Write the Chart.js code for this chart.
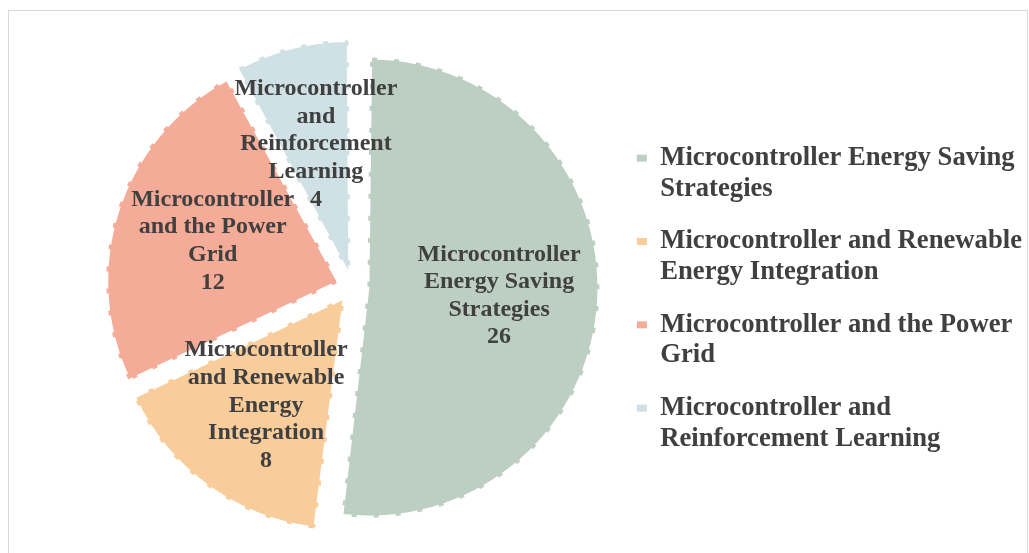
<!DOCTYPE html>
<html>
<head>
<meta charset="utf-8">
<script src="https://cdn.jsdelivr.net/npm/chart.js@4"></script>
<style>
  html, body { margin: 0; padding: 0; background: #fff; }
  #wrap { width: 1029px; height: 553px; position: relative; }
</style>
</head>
<body>
<div id="wrap"><canvas id="chart"></canvas></div>
<script>
// data
const categories = [
  'Microcontroller Energy Saving Strategies',
  'Microcontroller and Renewable Energy Integration',
  'Microcontroller and the Power Grid',
  'Microcontroller and Reinforcement Learning'
];
const values = [26, 8, 12, 4];

// how the names wrap in the legend and inside the slices
const legendLines = [
  ['Microcontroller Energy Saving', 'Strategies'],
  ['Microcontroller and Renewable', 'Energy Integration'],
  ['Microcontroller and the Power', 'Grid'],
  ['Microcontroller and', 'Reinforcement Learning']
];
const sliceLines = [
  ['Microcontroller', 'Energy Saving', 'Strategies'],
  ['Microcontroller', 'and Renewable', 'Energy', 'Integration'],
  ['Microcontroller', 'and the Power', 'Grid'],
  ['Microcontroller', 'and', 'Reinforcement', 'Learning']
];

const colors = ['#bccfc2', '#f8cd9b', '#f4ab97', '#d0e1e6'];
const textColor = '#404040';
const serif = "'Liberation Serif', 'Times New Roman', serif";

// light grey frame around the chart
const framePlugin = {
  id: 'frame',
  beforeDraw(chart) {
    const ctx = chart.ctx;
    ctx.save();
    ctx.strokeStyle = '#d9d9d9';
    ctx.lineWidth = 1;
    ctx.strokeRect(8.5, 10.5, 1019, 600);
    ctx.restore();
  }
};

// Chart.js grows an offset arc's radius by offset*(1 - sin(circumference));
// take that back so every exploded slice keeps the same radius
const evenRadiusPlugin = {
  id: 'evenRadius',
  beforeDatasetsDraw(chart) {
    const meta = chart.getDatasetMeta(0);
    const base = meta.controller.outerRadius;
    meta.data.forEach(arc => {
      const off = (arc.options.offset || 0) / 4;
      const fix = 1 - Math.sin(Math.min(Math.PI, arc.circumference));
      arc.outerRadius = base - off * fix;
    });
  }
};

// labels inside each slice: name + value
const sliceLabelPlugin = {
  id: 'sliceLabels',
  afterDatasetsDraw(chart) {
    const ctx = chart.ctx;
    const meta = chart.getDatasetMeta(0);
    const base = meta.controller.outerRadius;
    const size = 24, lh = 27.6;
    ctx.save();
    ctx.font = 'bold ' + size + 'px ' + serif;
    ctx.fillStyle = textColor;
    ctx.textAlign = 'center';
    ctx.textBaseline = 'middle';
    meta.data.forEach((arc, i) => {
      const p = arc.getProps(['x', 'y', 'startAngle', 'endAngle'], true);
      const mid = (p.startAngle + p.endAngle) / 2;
      const dist = arc.options.offset / 4 + base * 0.57;
      const cx = p.x + Math.cos(mid) * dist;
      const cy = p.y + Math.sin(mid) * dist;
      const lines = sliceLines[i].concat([String(values[i])]);
      const top = cy - (lines.length - 1) * lh / 2;
      lines.forEach((t, j) => ctx.fillText(t, cx, top + j * lh));
    });
    ctx.restore();
  }
};

new Chart(document.getElementById('chart'), {
  type: 'pie',
  data: {
    labels: categories,
    datasets: [{
      data: values,
      backgroundColor: colors,
      borderColor: colors,
      borderWidth: 4,
      borderDash: [5, 17],
      offset: 68
    }]
  },
  options: {
    responsive: true,
    maintainAspectRatio: false,
    animation: false,
    radius: 228,
    layout: { padding: { left: 90, right: -3, top: 20, bottom: 0 } },
    plugins: {
      tooltip: { enabled: false },
      legend: {
        position: 'right',
        title: { display: true, text: '', padding: 9, font: { size: 10, lineHeight: 1 } },
        labels: {
          boxWidth: 10,
          boxHeight: 7,
          padding: 22,
          color: textColor,
          font: { family: serif, size: 26.67, weight: 'bold', lineHeight: 1.15 },
          generateLabels: () => legendLines.map((lines, i) => ({
            text: lines,
            fillStyle: colors[i],
            strokeStyle: colors[i],
            lineWidth: 0,
            fontColor: textColor,
            hidden: false,
            index: i
          }))
        }
      }
    }
  },
  plugins: [framePlugin, evenRadiusPlugin, sliceLabelPlugin]
});
</script>
</body>
</html>
